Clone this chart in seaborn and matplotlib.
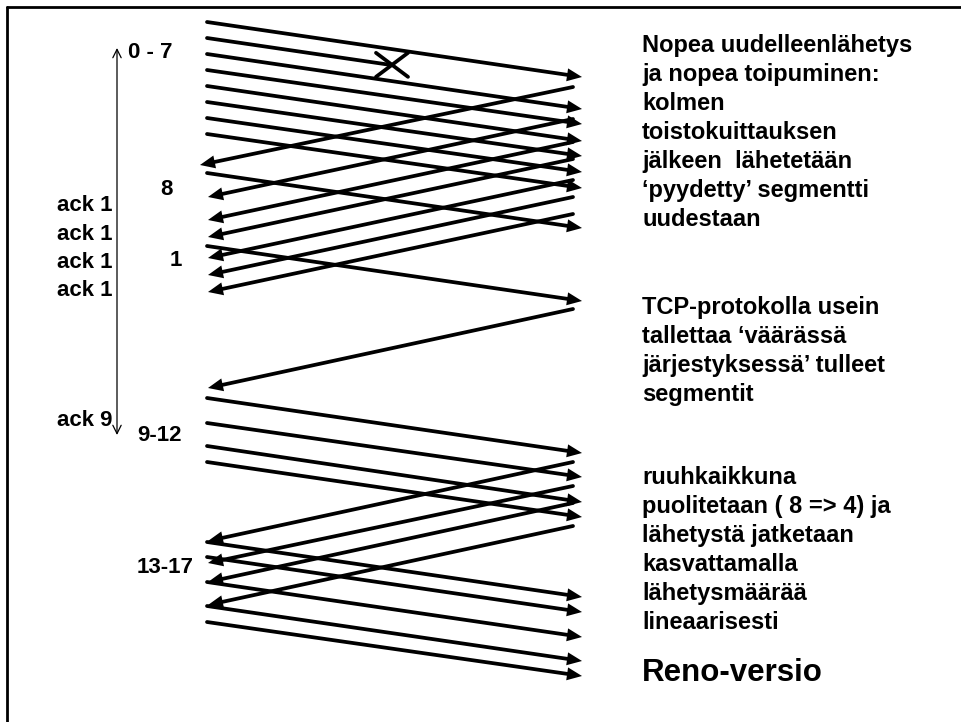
import numpy as np
import pandas as pd
import matplotlib
matplotlib.use("Agg")
import matplotlib.pyplot as plt
import seaborn as sns

# --- aika kasvaa alaspäin (y), lähettäjä vasemmalla, vastaanottaja oikealla ---
SEG_SENT = [22, 38, 54, 70, 86, 102, 118, 134, 173, 246,
            398, 423, 446, 462, 542, 557, 582, 606, 622]
SEG_RECV = [77, None, 109, 124, 141, 156, 172, 188, 228, 301,
            453, 477, 502, 517, 597, 612, 637, 661, 676]
LOST_FRAC = 0.488  # segmentti 1 katoaa tässä kohtaa matkaa

ACK_SENT = [87, 119, 142, 159, 180, 197, 214, 309, 462, 486, 503, 526]
ACK_RECV = [165, 197, 220, 237, 258, 275, 292, 388, 541, 563, 582, 605]

SEG_TEXT = ["0 - 7", "8", "1", "9-12", "13-17"]
SEG_TEXT_Y = [50, 187, 258, 433, 565]
SEG_TEXT_X = [128, 160, 170, 137, 137]
ACK_TEXT = ["ack 1", "ack 1", "ack 1", "ack 1", "ack 9"]
ACK_TEXT_Y = [203, 232, 260, 288, 418]

NOTE_1 = ["Nopea uudelleenlähetys", "ja nopea toipuminen:", "kolmen",
          "toistokuittauksen", "jälkeen  lähetetään",
          "\u2018pyydetty\u2019 segmentti", "uudestaan"]
NOTE_2 = ["TCP-protokolla usein", "tallettaa \u2018väärässä",
          "järjestyksessä\u2019 tulleet", "segmentit"]
NOTE_3 = ["ruuhkaikkuna", "puolitetaan ( 8 => 4) ja", "lähetystä jatketaan",
          "kasvattamalla", "lähetysmäärää", "lineaarisesti"]
TITLE = "Reno-versio"

# layout
W, H = 961, 722
LEFT_X, RIGHT_X = 207, 582
ACK_RIGHT_X, ACK_LEFT_X = 573, 208
LW = 2.7
HEAD_LEN, HEAD_HALF = 15, 6.5

sns.set_theme(style="white")
plt.rcParams['font.family'] = ['Liberation Sans', 'DejaVu Sans']
plt.rcParams['text.color'] = 'black'

fig = plt.figure(figsize=(W / 100, H / 100), dpi=100)
ax = fig.add_axes([0, 0, 1, 1])

rows = []
heads = []


def add_arrow(uid, x0, y0, x1, y1, head=True):
    d = np.array([x1 - x0, y1 - y0], dtype=float)
    u = d / np.hypot(*d)
    end = np.array([x1, y1]) - (u * (HEAD_LEN - 3) if head else 0)
    rows.append((uid, x0, y0))
    rows.append((uid, end[0], end[1]))
    if head:
        n = np.array([-u[1], u[0]])
        tip = np.array([x1, y1], dtype=float)
        base = tip - u * HEAD_LEN
        heads.append(np.array([tip, base + n * HEAD_HALF, base - n * HEAD_HALF]))


uid = 0
for s, r in zip(SEG_SENT, SEG_RECV):
    if r is None:
        r_full = s + (SEG_RECV[0] - SEG_SENT[0])
        xl = LEFT_X + LOST_FRAC * (RIGHT_X - LEFT_X)
        yl = s + LOST_FRAC * (r_full - s)
        add_arrow(uid, LEFT_X, s, xl, yl, head=False)
        lost_pt = (xl, yl)
    else:
        add_arrow(uid, LEFT_X, s, RIGHT_X, r)
    uid += 1

for i, (s, r) in enumerate(zip(ACK_SENT, ACK_RECV)):
    xt = 200 if i == 0 else ACK_LEFT_X
    add_arrow(uid, ACK_RIGHT_X, s, xt, r)
    uid += 1

df = pd.DataFrame(rows, columns=["id", "x", "y"])
sns.lineplot(data=df, x="x", y="y", units="id", estimator=None, sort=False,
             color="black", linewidth=LW, legend=False, ax=ax)

for tri in heads:
    ax.fill(tri[:, 0], tri[:, 1], color="black", lw=0)

# katoamisen merkki
cx, cy = lost_pt
cx += 2
ax.plot([cx - 16, cx + 16], [cy - 12, cy + 12], color="black", lw=LW)
ax.plot([cx - 16, cx + 16], [cy + 12, cy - 12], color="black", lw=LW)

# aika-akseli
ax.annotate("", xy=(117, 48), xytext=(117, 435),
            arrowprops=dict(arrowstyle="<->,head_length=0.6,head_width=0.3",
                            mutation_scale=10, lw=0.9, color="black",
                            shrinkA=0, shrinkB=0))

# kehys
ax.plot([7, 7], [H, 7], color="black", lw=2)
ax.plot([7, W], [7, 7], color="black", lw=2)

FS = 16
for t, x, y in zip(SEG_TEXT, SEG_TEXT_X, SEG_TEXT_Y):
    ax.text(x, y + 8, t, fontsize=FS, fontweight="bold", va="baseline", ha="left")
for t, y in zip(ACK_TEXT, ACK_TEXT_Y):
    ax.text(57, y + 8, t, fontsize=FS, fontweight="bold", va="baseline", ha="left")

NX = 642
for block, y0 in [(NOTE_1, 44), (NOTE_2, 306), (NOTE_3, 476)]:
    for i, t in enumerate(block):
        ax.text(NX, y0 + i * 29 + 8, t, fontsize=17, fontweight="bold",
                va="baseline", ha="left")
ax.text(NX, 670 + 11, TITLE, fontsize=22.5, fontweight="bold", va="baseline", ha="left")

ax.set_xlim(0, W)
ax.set_ylim(H, 0)
ax.axis("off")

fig.savefig("out.png", dpi=100)
